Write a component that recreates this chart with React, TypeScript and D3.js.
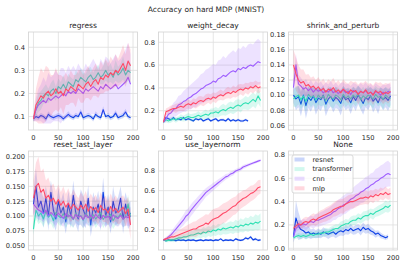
import React from "react";
import * as d3 from "d3";

const WIDTH = 403;
const HEIGHT = 265;
const STEP = 5; // epochs between stored points

const SERIES = ["resnet", "transformer", "cnn", "mlp"];
const COLORS = ["#0b3fe6", "#2fe0b3", "#9d5cff", "#ff4a68"];
const X_TICKS = [0, 50, 100, 150, 200];

// ---- regress
const regressResnet = [0.09, 0.1, 0.095, 0.105, 0.1, 0.09, 0.11, 0.1, 0.095, 0.1, 0.105, 0.1, 0.09, 0.1, 0.11, 0.1, 0.095, 0.105, 0.1, 0.12, 0.095, 0.1, 0.105, 0.1, 0.09, 0.11, 0.1, 0.095, 0.13, 0.1, 0.105, 0.095, 0.1, 0.115, 0.095, 0.1, 0.105, 0.12, 0.1, 0.095];
const regressResnetStd = [0.01, 0.012, 0.01, 0.011, 0.01, 0.012, 0.013, 0.01, 0.011, 0.01, 0.012, 0.01, 0.011, 0.01, 0.013, 0.01, 0.011, 0.012, 0.01, 0.014, 0.011, 0.01, 0.012, 0.01, 0.011, 0.013, 0.01, 0.011, 0.015, 0.01, 0.012, 0.011, 0.01, 0.013, 0.011, 0.01, 0.012, 0.014, 0.01, 0.011];
const regressTransformer = [0.09, 0.13, 0.16, 0.17, 0.19, 0.2, 0.19, 0.21, 0.22, 0.2, 0.23, 0.22, 0.24, 0.22, 0.25, 0.24, 0.23, 0.26, 0.25, 0.27, 0.26, 0.25, 0.27, 0.28, 0.26, 0.27, 0.29, 0.27, 0.28, 0.3, 0.28, 0.29, 0.27, 0.3, 0.28, 0.29, 0.31, 0.28, 0.3, 0.29];
const regressTransformerStd = [0.01, 0.03, 0.04, 0.04, 0.035, 0.04, 0.03, 0.035, 0.04, 0.03, 0.035, 0.03, 0.04, 0.03, 0.035, 0.03, 0.03, 0.04, 0.035, 0.04, 0.03, 0.035, 0.04, 0.035, 0.03, 0.04, 0.035, 0.03, 0.04, 0.045, 0.035, 0.04, 0.03, 0.045, 0.035, 0.04, 0.05, 0.04, 0.045, 0.04];
const regressCnn = [0.09, 0.13, 0.15, 0.16, 0.17, 0.16, 0.18, 0.17, 0.18, 0.19, 0.18, 0.19, 0.2, 0.19, 0.21, 0.2, 0.21, 0.2, 0.22, 0.21, 0.2, 0.22, 0.21, 0.22, 0.23, 0.22, 0.21, 0.23, 0.22, 0.24, 0.23, 0.22, 0.23, 0.24, 0.22, 0.23, 0.24, 0.25, 0.27, 0.24];
const regressCnnStd = [0.01, 0.05, 0.07, 0.08, 0.1, 0.09, 0.11, 0.1, 0.1, 0.11, 0.1, 0.12, 0.11, 0.1, 0.11, 0.1, 0.11, 0.1, 0.11, 0.1, 0.1, 0.11, 0.1, 0.11, 0.12, 0.11, 0.1, 0.12, 0.11, 0.12, 0.12, 0.11, 0.12, 0.13, 0.12, 0.12, 0.13, 0.14, 0.15, 0.13];
const regressMlp = [0.09, 0.15, 0.17, 0.19, 0.18, 0.2, 0.21, 0.19, 0.2, 0.22, 0.2, 0.21, 0.19, 0.22, 0.21, 0.23, 0.22, 0.21, 0.24, 0.23, 0.22, 0.24, 0.25, 0.23, 0.25, 0.26, 0.24, 0.27, 0.26, 0.28, 0.27, 0.29, 0.28, 0.3, 0.29, 0.31, 0.33, 0.3, 0.34, 0.32];
const regressMlpStd = [0.01, 0.07, 0.1, 0.12, 0.11, 0.12, 0.1, 0.09, 0.08, 0.09, 0.08, 0.07, 0.08, 0.07, 0.06, 0.07, 0.06, 0.07, 0.06, 0.07, 0.06, 0.06, 0.07, 0.06, 0.06, 0.07, 0.06, 0.07, 0.06, 0.07, 0.06, 0.07, 0.06, 0.07, 0.06, 0.07, 0.08, 0.07, 0.08, 0.07];

// ---- weight_decay
const wdResnet = [0.1, 0.14, 0.13, 0.12, 0.14, 0.12, 0.13, 0.12, 0.14, 0.12, 0.13, 0.12, 0.11, 0.13, 0.12, 0.13, 0.11, 0.12, 0.13, 0.11, 0.12, 0.13, 0.11, 0.12, 0.12, 0.11, 0.13, 0.11, 0.12, 0.11, 0.12, 0.11, 0.11, 0.12, 0.11];
const wdResnetStd = [0.005, 0.015, 0.012, 0.01, 0.014, 0.01, 0.012, 0.01, 0.013, 0.01, 0.012, 0.01, 0.01, 0.012, 0.01, 0.012, 0.01, 0.01, 0.012, 0.01, 0.01, 0.012, 0.01, 0.01, 0.011, 0.01, 0.012, 0.01, 0.01, 0.01, 0.011, 0.01, 0.01, 0.011, 0.01];
const wdTransformer = [0.1, 0.12, 0.11, 0.12, 0.13, 0.12, 0.13, 0.14, 0.13, 0.14, 0.15, 0.14, 0.14, 0.15, 0.16, 0.15, 0.16, 0.17, 0.16, 0.18, 0.18, 0.19, 0.18, 0.2, 0.21, 0.2, 0.22, 0.23, 0.22, 0.24, 0.25, 0.24, 0.26, 0.27, 0.26, 0.28, 0.3, 0.28, 0.33, 0.29];
const wdTransformerStd = [0.01, 0.02, 0.02, 0.025, 0.02, 0.025, 0.02, 0.03, 0.025, 0.03, 0.03, 0.03, 0.035, 0.03, 0.035, 0.03, 0.035, 0.04, 0.035, 0.04, 0.04, 0.045, 0.04, 0.045, 0.05, 0.045, 0.05, 0.05, 0.05, 0.055, 0.05, 0.055, 0.05, 0.06, 0.055, 0.06, 0.06, 0.06, 0.065, 0.06];
const wdCnn = [0.1, 0.13, 0.17, 0.18, 0.21, 0.22, 0.25, 0.26, 0.28, 0.29, 0.31, 0.32, 0.34, 0.35, 0.37, 0.39, 0.4, 0.42, 0.43, 0.44, 0.46, 0.45, 0.48, 0.49, 0.51, 0.5, 0.52, 0.54, 0.55, 0.54, 0.57, 0.56, 0.58, 0.57, 0.59, 0.6, 0.59, 0.61, 0.63, 0.62];
const wdCnnStd = [0.01, 0.03, 0.04, 0.05, 0.06, 0.07, 0.08, 0.08, 0.09, 0.1, 0.1, 0.11, 0.11, 0.12, 0.12, 0.13, 0.13, 0.14, 0.14, 0.15, 0.15, 0.15, 0.16, 0.16, 0.17, 0.16, 0.17, 0.17, 0.18, 0.17, 0.18, 0.18, 0.19, 0.18, 0.19, 0.19, 0.19, 0.2, 0.2, 0.19];
const wdMlp = [0.1, 0.19, 0.2, 0.21, 0.22, 0.22, 0.23, 0.24, 0.23, 0.25, 0.26, 0.25, 0.27, 0.26, 0.28, 0.29, 0.28, 0.3, 0.31, 0.3, 0.32, 0.31, 0.33, 0.34, 0.33, 0.35, 0.36, 0.35, 0.37, 0.36, 0.38, 0.39, 0.38, 0.4, 0.39, 0.41, 0.4, 0.42, 0.4, 0.41];
const wdMlpStd = [0.01, 0.03, 0.03, 0.035, 0.03, 0.04, 0.035, 0.04, 0.035, 0.04, 0.04, 0.035, 0.04, 0.04, 0.045, 0.04, 0.04, 0.045, 0.04, 0.045, 0.04, 0.045, 0.04, 0.045, 0.04, 0.045, 0.05, 0.045, 0.05, 0.045, 0.05, 0.045, 0.05, 0.045, 0.05, 0.045, 0.05, 0.045, 0.05, 0.045];

// ---- shrink_and_perturb
const spResnet = [0.1, 0.095, 0.098, 0.088, 0.1, 0.086, 0.097, 0.093, 0.099, 0.09, 0.096, 0.094, 0.1, 0.088, 0.095, 0.098, 0.092, 0.097, 0.094, 0.089, 0.099, 0.094, 0.096, 0.09, 0.098, 0.093, 0.1, 0.095, 0.089, 0.097, 0.094, 0.099, 0.092, 0.096, 0.09, 0.098, 0.094, 0.097, 0.093, 0.099];
const spResnetStd = [0.01, 0.015, 0.014, 0.016, 0.013, 0.017, 0.014, 0.015, 0.013, 0.016, 0.014, 0.015, 0.013, 0.016, 0.014, 0.013, 0.015, 0.014, 0.013, 0.016, 0.013, 0.014, 0.013, 0.015, 0.013, 0.014, 0.012, 0.014, 0.015, 0.013, 0.014, 0.012, 0.015, 0.013, 0.015, 0.012, 0.014, 0.013, 0.014, 0.012];
const spTransformer = [0.095, 0.098, 0.1, 0.094, 0.099, 0.092, 0.101, 0.097, 0.099, 0.094, 0.1, 0.096, 0.099, 0.093, 0.101, 0.097, 0.095, 0.1, 0.098, 0.094, 0.101, 0.096, 0.099, 0.095, 0.1, 0.097, 0.102, 0.094, 0.099, 0.096, 0.1, 0.098, 0.095, 0.101, 0.097, 0.099, 0.094, 0.1, 0.097, 0.095];
const spTransformerStd = [0.01, 0.014, 0.012, 0.013, 0.012, 0.014, 0.012, 0.013, 0.011, 0.013, 0.012, 0.011, 0.012, 0.013, 0.011, 0.012, 0.013, 0.011, 0.012, 0.013, 0.011, 0.012, 0.011, 0.013, 0.011, 0.012, 0.011, 0.013, 0.012, 0.011, 0.012, 0.011, 0.013, 0.011, 0.012, 0.011, 0.013, 0.011, 0.012, 0.012];
const spCnn = [0.11, 0.14, 0.115, 0.112, 0.108, 0.11, 0.106, 0.109, 0.104, 0.108, 0.105, 0.107, 0.103, 0.106, 0.104, 0.108, 0.103, 0.106, 0.102, 0.105, 0.107, 0.103, 0.105, 0.101, 0.106, 0.104, 0.102, 0.105, 0.103, 0.106, 0.102, 0.104, 0.101, 0.105, 0.103, 0.1, 0.104, 0.102, 0.105, 0.103];
const spCnnStd = [0.01, 0.015, 0.012, 0.011, 0.01, 0.011, 0.01, 0.011, 0.01, 0.011, 0.01, 0.011, 0.01, 0.011, 0.01, 0.011, 0.01, 0.011, 0.01, 0.011, 0.01, 0.011, 0.01, 0.011, 0.01, 0.011, 0.01, 0.011, 0.01, 0.011, 0.01, 0.011, 0.01, 0.011, 0.01, 0.011, 0.01, 0.011, 0.01, 0.011];
const spMlp = [0.14, 0.128, 0.12, 0.116, 0.118, 0.112, 0.114, 0.11, 0.112, 0.108, 0.111, 0.106, 0.109, 0.104, 0.108, 0.106, 0.11, 0.104, 0.107, 0.103, 0.108, 0.105, 0.102, 0.107, 0.104, 0.106, 0.101, 0.105, 0.103, 0.107, 0.102, 0.104, 0.1, 0.106, 0.103, 0.105, 0.101, 0.104, 0.102, 0.105];
const spMlpStd = [0.02, 0.022, 0.02, 0.018, 0.016, 0.015, 0.014, 0.013, 0.013, 0.012, 0.013, 0.012, 0.013, 0.012, 0.013, 0.012, 0.013, 0.012, 0.013, 0.012, 0.013, 0.012, 0.013, 0.012, 0.013, 0.012, 0.013, 0.012, 0.013, 0.012, 0.013, 0.012, 0.013, 0.012, 0.013, 0.012, 0.013, 0.012, 0.013, 0.012];

// ---- reset_last_layer
const rlResnet = [0.12, 0.15, 0.115, 0.125, 0.105, 0.13, 0.1, 0.14, 0.11, 0.095, 0.125, 0.105, 0.115, 0.09, 0.12, 0.1, 0.135, 0.105, 0.095, 0.125, 0.11, 0.1, 0.13, 0.085, 0.115, 0.105, 0.12, 0.095, 0.14, 0.1, 0.115, 0.09, 0.125, 0.105, 0.11, 0.13, 0.095, 0.12, 0.1, 0.105];
const rlResnetStd = [0.02, 0.03, 0.025, 0.02, 0.025, 0.02, 0.025, 0.02, 0.025, 0.02, 0.022, 0.02, 0.025, 0.02, 0.022, 0.02, 0.025, 0.02, 0.022, 0.02, 0.025, 0.02, 0.022, 0.02, 0.025, 0.02, 0.022, 0.02, 0.025, 0.02, 0.022, 0.02, 0.025, 0.02, 0.022, 0.02, 0.025, 0.02, 0.022, 0.02];
const rlTransformer = [0.078, 0.11, 0.1, 0.105, 0.095, 0.108, 0.098, 0.103, 0.092, 0.106, 0.1, 0.097, 0.104, 0.095, 0.102, 0.099, 0.094, 0.105, 0.098, 0.101, 0.093, 0.104, 0.099, 0.096, 0.102, 0.095, 0.1, 0.106, 0.094, 0.101, 0.098, 0.103, 0.092, 0.1, 0.097, 0.104, 0.095, 0.099, 0.12, 0.098];
const rlTransformerStd = [0.01, 0.015, 0.014, 0.015, 0.014, 0.015, 0.014, 0.015, 0.014, 0.015, 0.014, 0.015, 0.014, 0.015, 0.014, 0.015, 0.014, 0.015, 0.014, 0.015, 0.014, 0.015, 0.014, 0.015, 0.014, 0.015, 0.014, 0.015, 0.014, 0.015, 0.014, 0.015, 0.014, 0.015, 0.014, 0.015, 0.014, 0.015, 0.016, 0.015];
const rlCnn = [0.12, 0.115, 0.11, 0.108, 0.104, 0.11, 0.1, 0.106, 0.102, 0.098, 0.105, 0.1, 0.096, 0.104, 0.099, 0.102, 0.095, 0.103, 0.098, 0.1, 0.094, 0.102, 0.097, 0.101, 0.096, 0.103, 0.098, 0.095, 0.101, 0.097, 0.1, 0.094, 0.102, 0.098, 0.096, 0.101, 0.095, 0.099, 0.097, 0.1];
const rlCnnStd = [0.015, 0.018, 0.016, 0.015, 0.014, 0.015, 0.014, 0.015, 0.014, 0.015, 0.014, 0.015, 0.014, 0.015, 0.014, 0.015, 0.014, 0.015, 0.014, 0.015, 0.014, 0.015, 0.014, 0.015, 0.014, 0.015, 0.014, 0.015, 0.014, 0.015, 0.014, 0.015, 0.014, 0.015, 0.014, 0.015, 0.014, 0.015, 0.014, 0.015];
const rlMlp = [0.13, 0.15, 0.155, 0.14, 0.145, 0.13, 0.135, 0.125, 0.13, 0.12, 0.128, 0.118, 0.125, 0.115, 0.122, 0.112, 0.12, 0.115, 0.11, 0.118, 0.112, 0.12, 0.108, 0.116, 0.11, 0.114, 0.106, 0.118, 0.11, 0.112, 0.105, 0.116, 0.108, 0.113, 0.106, 0.11, 0.115, 0.104, 0.112, 0.085];
const rlMlpStd = [0.03, 0.04, 0.045, 0.035, 0.035, 0.03, 0.03, 0.025, 0.025, 0.022, 0.025, 0.022, 0.025, 0.022, 0.025, 0.022, 0.025, 0.022, 0.02, 0.022, 0.02, 0.022, 0.02, 0.022, 0.02, 0.022, 0.02, 0.022, 0.02, 0.022, 0.02, 0.022, 0.02, 0.022, 0.02, 0.022, 0.02, 0.022, 0.02, 0.025];

// ---- use_layernorm
const lnResnet = [0.1, 0.09, 0.1, 0.095, 0.1, 0.09, 0.1, 0.095, 0.1, 0.09, 0.1, 0.095, 0.1, 0.09, 0.095, 0.1, 0.09, 0.1, 0.095, 0.1, 0.09, 0.1, 0.095, 0.11, 0.09, 0.1, 0.095, 0.1, 0.09, 0.11, 0.1, 0.095, 0.1, 0.12, 0.11, 0.13, 0.1, 0.11, 0.095, 0.1];
const lnResnetStd = [0.01, 0.012, 0.01, 0.012, 0.01, 0.012, 0.01, 0.012, 0.01, 0.012, 0.01, 0.012, 0.01, 0.012, 0.01, 0.012, 0.01, 0.012, 0.01, 0.012, 0.01, 0.012, 0.01, 0.012, 0.01, 0.012, 0.01, 0.012, 0.01, 0.012, 0.01, 0.012, 0.01, 0.014, 0.012, 0.015, 0.012, 0.013, 0.012, 0.012];
const lnTransformer = [0.1, 0.09, 0.095, 0.1, 0.1, 0.11, 0.12, 0.12, 0.13, 0.13, 0.14, 0.15, 0.15, 0.16, 0.17, 0.16, 0.18, 0.17, 0.19, 0.18, 0.2, 0.19, 0.21, 0.2, 0.22, 0.21, 0.22, 0.23, 0.22, 0.24, 0.23, 0.25, 0.24, 0.26, 0.25, 0.27, 0.26, 0.28, 0.27, 0.29];
const lnTransformerStd = [0.01, 0.015, 0.02, 0.02, 0.025, 0.025, 0.03, 0.03, 0.035, 0.035, 0.04, 0.04, 0.04, 0.045, 0.045, 0.045, 0.05, 0.05, 0.05, 0.05, 0.055, 0.05, 0.055, 0.055, 0.06, 0.055, 0.06, 0.06, 0.06, 0.065, 0.06, 0.07, 0.065, 0.07, 0.07, 0.075, 0.07, 0.08, 0.075, 0.08];
const lnCnn = [0.1, 0.11, 0.13, 0.15, 0.18, 0.21, 0.24, 0.27, 0.3, 0.34, 0.36, 0.4, 0.43, 0.46, 0.49, 0.52, 0.55, 0.58, 0.6, 0.62, 0.64, 0.66, 0.68, 0.7, 0.72, 0.74, 0.75, 0.77, 0.78, 0.8, 0.81, 0.82, 0.84, 0.85, 0.86, 0.87, 0.88, 0.89, 0.9, 0.91];
const lnCnnStd = [0.01, 0.015, 0.02, 0.03, 0.035, 0.04, 0.045, 0.05, 0.055, 0.06, 0.06, 0.06, 0.06, 0.055, 0.055, 0.05, 0.05, 0.045, 0.045, 0.04, 0.04, 0.035, 0.035, 0.03, 0.03, 0.03, 0.025, 0.025, 0.025, 0.02, 0.02, 0.02, 0.02, 0.02, 0.015, 0.015, 0.015, 0.015, 0.015, 0.015];
const lnMlp = [0.1, 0.11, 0.12, 0.13, 0.13, 0.14, 0.15, 0.16, 0.17, 0.18, 0.19, 0.2, 0.21, 0.21, 0.23, 0.24, 0.25, 0.27, 0.26, 0.29, 0.31, 0.32, 0.33, 0.35, 0.37, 0.38, 0.4, 0.42, 0.44, 0.45, 0.48, 0.5, 0.52, 0.53, 0.55, 0.57, 0.58, 0.6, 0.63, 0.64];
const lnMlpStd = [0.01, 0.02, 0.025, 0.03, 0.035, 0.04, 0.045, 0.05, 0.055, 0.06, 0.065, 0.07, 0.075, 0.08, 0.08, 0.085, 0.09, 0.09, 0.095, 0.095, 0.1, 0.1, 0.1, 0.1, 0.1, 0.1, 0.095, 0.095, 0.09, 0.09, 0.09, 0.085, 0.085, 0.08, 0.08, 0.08, 0.075, 0.075, 0.075, 0.07];

// ---- None
const noneResnet = [0.1, 0.26, 0.19, 0.16, 0.15, 0.13, 0.14, 0.12, 0.13, 0.12, 0.13, 0.12, 0.14, 0.13, 0.12, 0.13, 0.14, 0.12, 0.14, 0.15, 0.14, 0.16, 0.15, 0.17, 0.15, 0.16, 0.17, 0.15, 0.18, 0.16, 0.17, 0.15, 0.14, 0.12, 0.13, 0.11, 0.1, 0.09, 0.1];
const noneResnetStd = [0.05, 0.15, 0.12, 0.08, 0.06, 0.05, 0.05, 0.04, 0.04, 0.035, 0.04, 0.035, 0.04, 0.035, 0.04, 0.035, 0.04, 0.035, 0.04, 0.04, 0.035, 0.04, 0.035, 0.04, 0.035, 0.04, 0.035, 0.04, 0.04, 0.035, 0.04, 0.035, 0.03, 0.03, 0.025, 0.025, 0.02, 0.02, 0.02];
const noneTransformer = [0.09, 0.1, 0.11, 0.1, 0.11, 0.1, 0.11, 0.12, 0.11, 0.12, 0.12, 0.13, 0.13, 0.14, 0.14, 0.15, 0.16, 0.17, 0.17, 0.19, 0.2, 0.21, 0.21, 0.23, 0.24, 0.24, 0.26, 0.25, 0.27, 0.28, 0.28, 0.3, 0.29, 0.31, 0.32, 0.33, 0.34, 0.36, 0.35, 0.37];
const noneTransformerStd = [0.01, 0.02, 0.02, 0.025, 0.02, 0.025, 0.025, 0.03, 0.025, 0.03, 0.03, 0.03, 0.03, 0.035, 0.03, 0.035, 0.035, 0.035, 0.035, 0.04, 0.035, 0.04, 0.035, 0.04, 0.04, 0.04, 0.04, 0.04, 0.045, 0.04, 0.045, 0.04, 0.045, 0.04, 0.045, 0.045, 0.045, 0.05, 0.045, 0.05];
const noneCnn = [0.1, 0.17, 0.19, 0.2, 0.21, 0.2, 0.22, 0.23, 0.22, 0.24, 0.24, 0.25, 0.26, 0.27, 0.28, 0.29, 0.31, 0.32, 0.34, 0.35, 0.37, 0.38, 0.4, 0.42, 0.43, 0.45, 0.46, 0.48, 0.49, 0.51, 0.52, 0.54, 0.55, 0.57, 0.58, 0.6, 0.61, 0.63, 0.64, 0.63];
const noneCnnStd = [0.01, 0.03, 0.035, 0.04, 0.04, 0.045, 0.045, 0.05, 0.05, 0.055, 0.055, 0.06, 0.06, 0.065, 0.065, 0.07, 0.07, 0.075, 0.075, 0.08, 0.08, 0.085, 0.085, 0.09, 0.09, 0.09, 0.095, 0.095, 0.1, 0.1, 0.1, 0.1, 0.1, 0.11, 0.11, 0.11, 0.11, 0.11, 0.11, 0.1];
const noneMlp = [0.17, 0.19, 0.21, 0.2, 0.22, 0.23, 0.22, 0.24, 0.25, 0.24, 0.26, 0.27, 0.28, 0.29, 0.3, 0.31, 0.33, 0.34, 0.35, 0.36, 0.36, 0.38, 0.39, 0.4, 0.4, 0.41, 0.42, 0.43, 0.43, 0.44, 0.43, 0.45, 0.44, 0.46, 0.45, 0.47, 0.46, 0.48, 0.46, 0.47];
const noneMlpStd = [0.02, 0.03, 0.035, 0.035, 0.04, 0.04, 0.045, 0.045, 0.05, 0.05, 0.05, 0.055, 0.055, 0.06, 0.06, 0.06, 0.06, 0.065, 0.065, 0.06, 0.065, 0.06, 0.065, 0.06, 0.06, 0.06, 0.055, 0.06, 0.055, 0.06, 0.055, 0.05, 0.055, 0.05, 0.05, 0.05, 0.05, 0.05, 0.045, 0.05];

// ---- per-panel axis settings
const PANELS = [
  { title: "regress", yDomain: [0.042, 0.466], yTicks: [0.1, 0.2, 0.3, 0.4], fmt: ".1f",
    means: [regressResnet, regressTransformer, regressCnn, regressMlp],
    stds: [regressResnetStd, regressTransformerStd, regressCnnStd, regressMlpStd] },
  { title: "weight_decay", yDomain: [0.031, 0.89], yTicks: [0.2, 0.4, 0.6, 0.8], fmt: ".1f",
    means: [wdResnet, wdTransformer, wdCnn, wdMlp],
    stds: [wdResnetStd, wdTransformerStd, wdCnnStd, wdMlpStd] },
  { title: "shrink_and_perturb", yDomain: [0.0538, 0.1836], yTicks: [0.06, 0.08, 0.1, 0.12, 0.14, 0.16, 0.18], fmt: ".2f",
    means: [spResnet, spTransformer, spCnn, spMlp],
    stds: [spResnetStd, spTransformerStd, spCnnStd, spMlpStd] },
  { title: "reset_last_layer", yDomain: [0.0427, 0.2096], yTicks: [0.05, 0.075, 0.1, 0.125, 0.15, 0.175, 0.2], fmt: ".3f",
    means: [rlResnet, rlTransformer, rlCnn, rlMlp],
    stds: [rlResnetStd, rlTransformerStd, rlCnnStd, rlMlpStd] },
  { title: "use_layernorm", yDomain: [-0.003, 1.003], yTicks: [0.2, 0.4, 0.6, 0.8], fmt: ".1f",
    means: [lnResnet, lnTransformer, lnCnn, lnMlp],
    stds: [lnResnetStd, lnTransformerStd, lnCnnStd, lnMlpStd] },
  { title: "None", yDomain: [-0.015, 0.834], yTicks: [0, 0.2, 0.4, 0.6, 0.8], fmt: ".1f",
    means: [noneResnet, noneTransformer, noneCnn, noneMlp],
    stds: [noneResnetStd, noneTransformerStd, noneCnnStd, noneMlpStd] },
];

// layout
const COL_LEFT = [28.5, 158.5, 288.5];
const PANEL_W = 109;
const ROW_TOP = [32, 151];
const PANEL_H = [98, 99];
const GRID = "#dedede";
const TEXT = "#262626";
const FONT = "DejaVu Sans, sans-serif";

function Panel({ panel, idx }) {
  const col = idx % 3;
  const row = Math.floor(idx / 3);
  const left = COL_LEFT[col];
  const top = ROW_TOP[row];
  const h = PANEL_H[row];
  const x = d3.scaleLinear().domain([-9.95, 208.95]).range([left, left + PANEL_W]);
  const y = d3.scaleLinear().domain(panel.yDomain).range([top + h, top]);
  const fmt = d3.format(panel.fmt);
  const clipId = `clip-${idx}`;

  return (
    <g>
      <defs>
        <clipPath id={clipId}>
          <rect x={left} y={top} width={PANEL_W} height={h} />
        </clipPath>
      </defs>
      {X_TICKS.map((t) => (
        <line key={`gx${t}`} x1={x(t)} x2={x(t)} y1={top} y2={top + h} stroke={GRID} strokeWidth={0.8} />
      ))}
      {panel.yTicks.map((t) => (
        <line key={`gy${t}`} x1={left} x2={left + PANEL_W} y1={y(t)} y2={y(t)} stroke={GRID} strokeWidth={0.8} />
      ))}
      <g clipPath={`url(#${clipId})`}>
        {panel.means.map((m, s) => {
          const sd = panel.stds[s];
          const pts = m.map((v, i) => ({ x: i * STEP, v, sd: sd[i] }));
          const area = d3.area<any>().x((d) => x(d.x)).y0((d) => y(d.v - d.sd)).y1((d) => y(d.v + d.sd));
          const line = d3.line<any>().x((d) => x(d.x)).y((d) => y(d.v));
          return (
            <g key={s}>
              <path d={area(pts)} fill={COLORS[s]} fillOpacity={0.18} stroke="none" />
              <path d={line(pts)} fill="none" stroke={COLORS[s]} strokeWidth={1.1} strokeLinejoin="round" />
            </g>
          );
        })}
      </g>
      <rect x={left} y={top} width={PANEL_W} height={h} fill="none" stroke="#d2d2d2" strokeWidth={0.8} />
      {X_TICKS.map((t) => (
        <text key={`tx${t}`} x={x(t)} y={top + h + 9.5} textAnchor="middle" fontSize={6.7} fill={TEXT} fontFamily={FONT}>
          {t}
        </text>
      ))}
      {panel.yTicks.map((t) => (
        <text key={`ty${t}`} x={left - 3.5} y={y(t)} dy="0.35em" textAnchor="end" fontSize={6.7} fill={TEXT} fontFamily={FONT}>
          {fmt(t)}
        </text>
      ))}
      <text x={left + PANEL_W / 2} y={top - 4} textAnchor="middle" fontSize={7.5} fill={TEXT} fontFamily={FONT}>
        {panel.title}
      </text>
    </g>
  );
}

function Legend() {
  const lx = 292;
  const ly = 155;
  return (
    <g>
      <rect x={lx} y={ly} width={61} height={38} rx={2} fill="#ffffff" fillOpacity={0.8} stroke="#d0d0d0" strokeWidth={0.8} />
      {SERIES.map((name, i) => (
        <g key={name}>
          <rect x={lx + 2.5} y={ly + 2.5 + i * 9.6} width={10} height={4} fill={COLORS[i]} fillOpacity={0.22} />
          <text x={lx + 20.5} y={ly + 4.5 + i * 9.6} dy="0.35em" fontSize={6.7} fill={TEXT} fontFamily={FONT}>
            {name}
          </text>
        </g>
      ))}
    </g>
  );
}

export default function App() {
  return (
    <div style={{ position: "absolute", left: 0, top: 0 }}>
      <svg width={WIDTH} height={HEIGHT} style={{ display: "block", background: "#fff" }}>
        <text x={206} y={11.5} textAnchor="middle" fontSize={7.5} fill={TEXT} fontFamily={FONT}>
          Accuracy on hard MDP (MNIST)
        </text>
        {PANELS.map((p, i) => (
          <Panel key={p.title} panel={p} idx={i} />
        ))}
        <Legend />
      </svg>
    </div>
  );
}
